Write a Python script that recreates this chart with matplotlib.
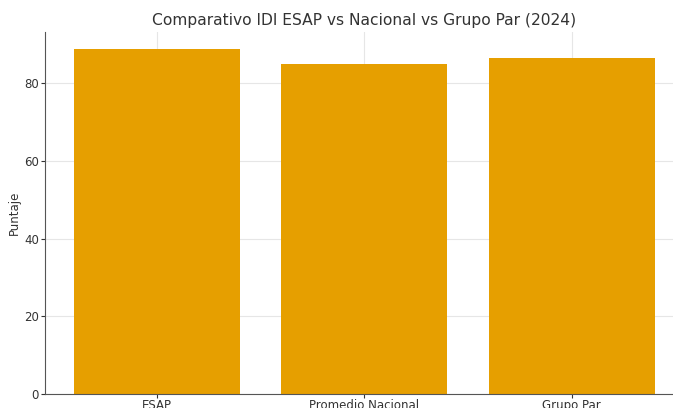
import matplotlib.pyplot as plt

CATEGORIES = ["ESAP", "Promedio Nacional", "Grupo Par"]
SCORES = [88.7, 84.8, 86.4]
BAR_COLOR = "#E69F00"

fig = plt.figure(figsize=(6.73, 4.08), dpi=100)
ax = fig.add_axes([0.067, 0.034, 0.949, 0.888])

ax.bar(range(len(SCORES)), SCORES, color=BAR_COLOR, width=0.8, zorder=2)
ax.set_xticks(range(len(CATEGORIES)))
ax.set_xticklabels(CATEGORIES)
ax.set_yticks([0, 20, 40, 60, 80])
ax.set_ylabel("Puntaje", fontsize=8.5, color="#333333", labelpad=2)
ax.set_title("Comparativo IDI ESAP vs Nacional vs Grupo Par (2024)", fontsize=11.2,
             color="#333333", pad=5)

ax.grid(True, color="#e6e6e6", linewidth=0.8, zorder=0)
ax.set_axisbelow(True)
for side in ("top", "right"):
    ax.spines[side].set_visible(False)
for side in ("left", "bottom"):
    ax.spines[side].set_color("#555555")
ax.tick_params(labelsize=8.5, colors="#333333", length=3)
ax.tick_params(axis="x", pad=0.5)
ax.tick_params(axis="y", pad=1.5)

fig.savefig("out.png", dpi=100, facecolor="white")
